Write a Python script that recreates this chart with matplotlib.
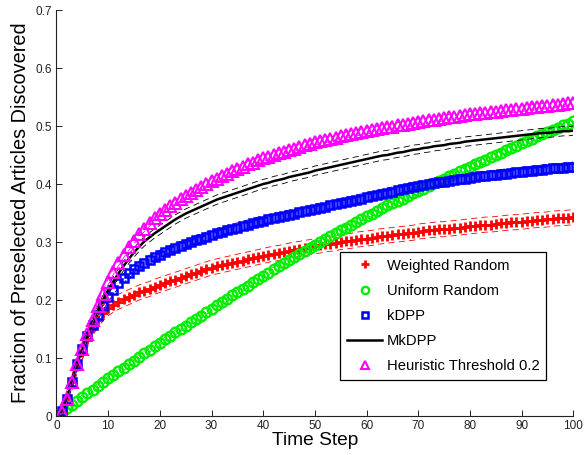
import numpy as np
import matplotlib
matplotlib.use("Agg")
import matplotlib.pyplot as plt

plt.rcParams['font.family'] = ['Liberation Sans', 'DejaVu Sans']
plt.rcParams['lines.scale_dashes'] = False

steps = list(range(1, 101))

weighted_random = [
    0.007, 0.030, 0.058, 0.087, 0.111, 0.132, 0.151, 0.166, 0.177, 0.186,
    0.192, 0.197, 0.201, 0.205, 0.209, 0.213, 0.216, 0.219, 0.223, 0.226,
    0.229, 0.232, 0.235, 0.238, 0.241, 0.244, 0.247, 0.250, 0.253, 0.256,
    0.258, 0.260, 0.262, 0.264, 0.266, 0.268, 0.270, 0.272, 0.274, 0.276,
    0.278, 0.280, 0.281, 0.283, 0.285, 0.287, 0.288, 0.290, 0.291, 0.293,
    0.294, 0.296, 0.297, 0.298, 0.300, 0.301, 0.302, 0.304, 0.305, 0.306,
    0.307, 0.309, 0.310, 0.311, 0.312, 0.313, 0.314, 0.315, 0.316, 0.318,
    0.319, 0.320, 0.321, 0.322, 0.322, 0.323, 0.324, 0.325, 0.326, 0.327,
    0.328, 0.329, 0.330, 0.330, 0.331, 0.332, 0.333, 0.334, 0.334, 0.335,
    0.336, 0.337, 0.338, 0.338, 0.339, 0.340, 0.341, 0.341, 0.342, 0.343,
]

uniform_random = [
    0.006, 0.013, 0.019, 0.026, 0.032, 0.039, 0.045, 0.052, 0.058, 0.065,
    0.071, 0.077, 0.083, 0.089, 0.095, 0.102, 0.108, 0.114, 0.120, 0.126,
    0.132, 0.138, 0.144, 0.150, 0.156, 0.162, 0.167, 0.173, 0.179, 0.185,
    0.191, 0.197, 0.202, 0.208, 0.214, 0.219, 0.225, 0.231, 0.236, 0.242,
    0.247, 0.253, 0.258, 0.264, 0.269, 0.274, 0.279, 0.285, 0.290, 0.295,
    0.300, 0.305, 0.310, 0.315, 0.320, 0.325, 0.330, 0.335, 0.340, 0.345,
    0.349, 0.354, 0.358, 0.363, 0.367, 0.371, 0.375, 0.380, 0.384, 0.388,
    0.392, 0.396, 0.401, 0.405, 0.409, 0.413, 0.418, 0.422, 0.426, 0.430,
    0.434, 0.438, 0.442, 0.446, 0.450, 0.454, 0.458, 0.462, 0.466, 0.470,
    0.474, 0.478, 0.482, 0.486, 0.489, 0.493, 0.497, 0.501, 0.504, 0.508,
]

kdpp = [
    0.008, 0.030, 0.058, 0.090, 0.116, 0.138, 0.157, 0.174, 0.190, 0.205,
    0.218, 0.229, 0.238, 0.246, 0.253, 0.259, 0.264, 0.269, 0.274, 0.278,
    0.282, 0.286, 0.290, 0.293, 0.296, 0.300, 0.303, 0.306, 0.309, 0.312,
    0.315, 0.318, 0.320, 0.323, 0.325, 0.328, 0.330, 0.332, 0.335, 0.337,
    0.339, 0.341, 0.343, 0.345, 0.347, 0.349, 0.351, 0.353, 0.355, 0.357,
    0.359, 0.361, 0.363, 0.365, 0.367, 0.369, 0.371, 0.373, 0.375, 0.377,
    0.379, 0.381, 0.383, 0.385, 0.387, 0.389, 0.391, 0.393, 0.395, 0.397,
    0.398, 0.400, 0.401, 0.403, 0.404, 0.405, 0.407, 0.408, 0.409, 0.411,
    0.412, 0.413, 0.414, 0.415, 0.416, 0.417, 0.418, 0.419, 0.420, 0.421,
    0.422, 0.423, 0.424, 0.425, 0.426, 0.427, 0.427, 0.428, 0.429, 0.430,
]

mkdpp = [
    0.007, 0.030, 0.058, 0.090, 0.116, 0.139, 0.161, 0.182, 0.200, 0.217,
    0.232, 0.246, 0.259, 0.271, 0.282, 0.292, 0.301, 0.308, 0.315, 0.321,
    0.327, 0.333, 0.339, 0.344, 0.349, 0.353, 0.357, 0.361, 0.365, 0.369,
    0.373, 0.376, 0.379, 0.382, 0.385, 0.388, 0.391, 0.394, 0.397, 0.400,
    0.402, 0.405, 0.407, 0.409, 0.412, 0.414, 0.416, 0.418, 0.420, 0.423,
    0.425, 0.427, 0.429, 0.431, 0.433, 0.435, 0.437, 0.439, 0.441, 0.443,
    0.445, 0.447, 0.449, 0.450, 0.452, 0.454, 0.455, 0.457, 0.459, 0.460,
    0.462, 0.463, 0.465, 0.466, 0.467, 0.469, 0.470, 0.471, 0.473, 0.474,
    0.475, 0.476, 0.477, 0.478, 0.479, 0.480, 0.481, 0.482, 0.483, 0.484,
    0.485, 0.486, 0.487, 0.488, 0.488, 0.489, 0.490, 0.491, 0.491, 0.492,
]

heuristic = [
    0.007, 0.029, 0.058, 0.090, 0.116, 0.141, 0.166, 0.190, 0.211, 0.231,
    0.249, 0.264, 0.278, 0.291, 0.302, 0.313, 0.323, 0.332, 0.341, 0.349,
    0.356, 0.362, 0.368, 0.374, 0.380, 0.385, 0.390, 0.395, 0.400, 0.405,
    0.409, 0.414, 0.418, 0.422, 0.426, 0.430, 0.434, 0.437, 0.441, 0.444,
    0.447, 0.450, 0.453, 0.456, 0.459, 0.461, 0.464, 0.467, 0.469, 0.472,
    0.474, 0.476, 0.478, 0.480, 0.482, 0.484, 0.486, 0.488, 0.489, 0.491,
    0.493, 0.494, 0.496, 0.498, 0.499, 0.501, 0.502, 0.504, 0.505, 0.507,
    0.508, 0.510, 0.511, 0.512, 0.514, 0.515, 0.516, 0.518, 0.519, 0.520,
    0.521, 0.522, 0.523, 0.524, 0.525, 0.526, 0.527, 0.528, 0.529, 0.530,
    0.531, 0.532, 0.533, 0.534, 0.535, 0.536, 0.537, 0.538, 0.539, 0.540,
]

# half-width of the dashed confidence band around each curve
band_weighted = 0.013
band_uniform = 0.004
band_kdpp = 0.008
band_mkdpp = 0.008
band_heuristic = 0.005

labels = ["Weighted Random", "Uniform Random", "kDPP", "MkDPP",
          "Heuristic Threshold 0.2"]

x_ticks = [0, 10, 20, 30, 40, 50, 60, 70, 80, 90, 100]
y_ticks = [0, 0.1, 0.2, 0.3, 0.4, 0.5, 0.6, 0.7]

fig = plt.figure(figsize=(5.84, 4.55), dpi=100)
ax = fig.add_axes([0.0967, 0.0857, 0.885, 0.8923])

x = np.array(steps)
dash = (0, (4.5, 3.0))


def band(values, half, color):
    v = np.array(values)
    ax.plot(x, v + half, color=color, lw=0.6, linestyle=dash)
    ax.plot(x, v - half, color=color, lw=0.6, linestyle=dash)


band(weighted_random, band_weighted, "red")
h_wr, = ax.plot(x, weighted_random, linestyle="none", marker="+", ms=7.5,
                mew=2.0, color="red", label=labels[0])

band(uniform_random, band_uniform, "#00ee00")
h_ur, = ax.plot(x, uniform_random, linestyle="none", marker="o", ms=7,
                mew=1.7, mfc="none", mec="#00ee00", label=labels[1])

band(kdpp, band_kdpp, "blue")
h_k, = ax.plot(x, kdpp, linestyle="none", marker="s", ms=6.3, mew=1.8,
               mfc="none", mec="blue", label=labels[2])

band(mkdpp, band_mkdpp, "black")
h_m, = ax.plot(x, mkdpp, color="black", lw=1.8, label=labels[3])

band(heuristic, band_heuristic, "magenta")
h_h, = ax.plot(x, heuristic, linestyle="none", marker="^", ms=8, mew=1.5,
               mfc="none", mec="magenta", label=labels[4])

ax.set_xlim(0, 100)
ax.set_ylim(0, 0.7)
ax.set_xticks(x_ticks)
ax.set_yticks(y_ticks)
ax.set_yticklabels(["0", "0.1", "0.2", "0.3", "0.4", "0.5", "0.6", "0.7"])

for side in ("top", "right"):
    ax.spines[side].set_visible(False)
for side in ("left", "bottom"):
    ax.spines[side].set_linewidth(0.8)
    ax.spines[side].set_color("#222222")
ax.tick_params(direction="in", length=4, width=0.7, labelsize=8.5,
               colors="#222222", pad=3)

ax.set_xlabel("Time Step", fontsize=13.8, labelpad=0)
ax.set_ylabel("Fraction of Preselected Articles Discovered", fontsize=14.3,
              labelpad=4)

leg = ax.legend(handles=[h_wr, h_ur, h_k, h_m, h_h], loc="upper left",
                bbox_to_anchor=(0.549, 0.404), fontsize=10.6, frameon=True,
                fancybox=False, edgecolor="black", framealpha=1,
                handlelength=2.4, handletextpad=0.3, labelspacing=0.76,
                borderpad=0.45, borderaxespad=0, markerscale=0.75)
leg.get_frame().set_linewidth(0.9)

fig.savefig("out.png", dpi=100)
